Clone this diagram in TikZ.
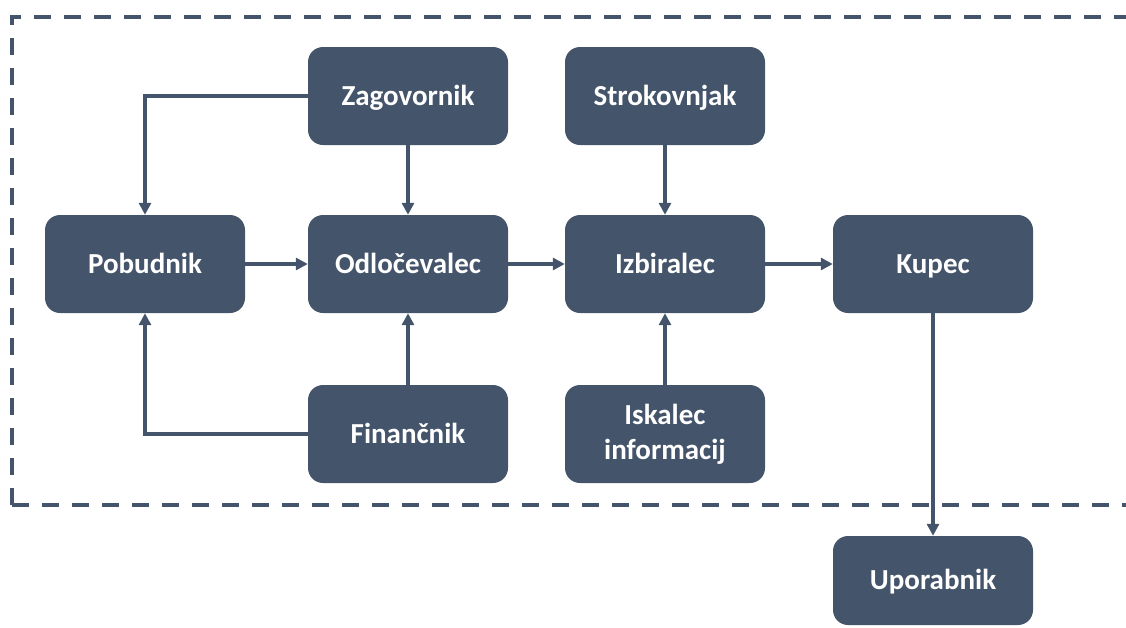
\documentclass[tikz,border=0pt]{standalone}
\usepackage{fontspec}
\setmainfont{Carlito}
\usetikzlibrary{arrows.meta, positioning}
\definecolor{slate}{HTML}{44546A}
\tikzset{
  role/.style={rounded corners=15pt, fill=slate, text=white, font=\bfseries\fontsize{29}{35}\selectfont, minimum width=200pt, minimum height=98pt, align=center, inner sep=4pt, text height=21pt, text depth=2.4pt},
  tworole/.style={role, text height={}, text depth={}},
  arrow/.style={-{Triangle[length=12pt,width=12pt]}, line width=3.4pt, draw=slate},
  frame/.style={draw=slate, line width=3.8pt, dash pattern=on 17pt off 13pt}
}

\begin{document}
\begin{tikzpicture}[x=1pt,y=1pt]
\useasboundingbox (0,0) rectangle (1126,-627);

% dashed boundary, open on the right
\draw[frame] (12,-505) -- (12,-17) -- (1126,-17);
\draw[frame] (12,-505) -- (1126,-505);

\node[role] (zag) at (408,-96) {Zagovornik};
\node[role] (strok) at (665,-96) {Strokovnjak};
\node[role] (pob) at (145,-264) {Pobudnik};
\node[role] (odl) at (408,-264) {Odločevalec};
\node[role] (izb) at (665,-264) {Izbiralec};
\node[role] (kup) at (933,-264) {Kupec};
\node[role] (fin) at (408,-434) {Finančnik};
\node[tworole] (isk) at (665,-434) {Iskalec\\informacij};
\node[role, minimum height=89pt] (upo) at (933,-580.5) {Uporabnik};

\draw[arrow] (zag.west) -| (pob.north);
\draw[arrow] (zag.south) -- (odl.north);
\draw[arrow] (strok.south) -- (izb.north);
\draw[arrow] (pob.east) -- (odl.west);
\draw[arrow] (odl.east) -- (izb.west);
\draw[arrow] (izb.east) -- (kup.west);
\draw[arrow] (fin.west) -| (pob.south);
\draw[arrow] (fin.north) -- (odl.south);
\draw[arrow] (isk.north) -- (izb.south);
\draw[arrow] (kup.south) -- (upo.north);

\end{tikzpicture}
\end{document}
